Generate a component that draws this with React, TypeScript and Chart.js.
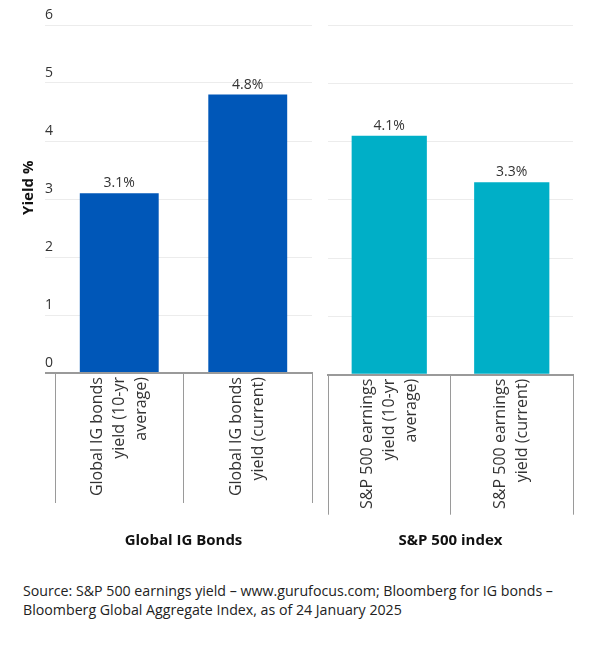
import { useEffect, useRef } from "react"
import { Chart, registerables } from "chart.js"

Chart.register(...registerables)

const FONT = "'Open Sans', sans-serif"

// data
const bondLabels = [
  ["Global IG bonds", "yield (10-yr", "average)"],
  ["Global IG bonds", "yield (current)"],
]
const bondValues = [3.1, 4.8]
const equityLabels = [
  ["S&P 500 earnings", "yield (10-yr", "average)"],
  ["S&P 500 earnings", "yield (current)"],
]
const equityValues = [4.1, 3.3]
const yTicks = [0, 1, 2, 3, 4, 5, 6]

// draws "x.x%" above each bar
const valueLabels = {
  id: "valueLabels",
  afterDatasetsDraw(chart: any) {
    const { ctx } = chart
    ctx.save()
    ctx.font = `14px ${FONT}`
    ctx.fillStyle = "#333"
    ctx.textAlign = "center"
    ctx.textBaseline = "bottom"
    chart.getDatasetMeta(0).data.forEach((bar: any, i: number) => {
      const v = chart.data.datasets[0].data[i]
      ctx.fillText(v.toFixed(1) + "%", bar.x, bar.y - 3)
    })
    ctx.restore()
  },
}

// rotated multi-line category labels, centred on each category
const xLabels = {
  id: "xLabels",
  afterDraw(chart: any) {
    const { ctx } = chart
    const scale = chart.scales.x
    const lh = 22
    ctx.save()
    ctx.font = `16px ${FONT}`
    ctx.fillStyle = "#333"
    ctx.textAlign = "right"
    ctx.textBaseline = "middle"
    scale.ticks.forEach((_t: any, i: number) => {
      const lines = chart.data.labels[i] as string[]
      ctx.save()
      ctx.translate(scale.getPixelForTick(i), scale.top + 4)
      ctx.rotate(-Math.PI / 2)
      lines.forEach((line, j) => {
        ctx.fillText(line, 0, (j - (lines.length - 1) / 2) * lh)
      })
      ctx.restore()
    })
    ctx.restore()
  },
}

function makeConfig(
  labels: string[][],
  values: number[],
  color: string,
  title: string,
  withYAxis: boolean,
  axisHeight: number,
  tickLength: number,
  padding: any
): any {
  return {
    type: "bar",
    data: {
      labels,
      datasets: [
        {
          data: values,
          backgroundColor: color,
          categoryPercentage: 1,
          barPercentage: 0.614,
        },
      ],
    },
    options: {
      responsive: true,
      maintainAspectRatio: false,
      animation: false,
      layout: { padding },
      plugins: {
        legend: { display: false },
        tooltip: { enabled: false },
      },
      scales: {
        x: {
          afterFit: (scale: any) => {
            scale.height = axisHeight
          },
          border: { display: true, color: "#9a9a9a", width: 2 },
          grid: {
            offset: true,
            drawOnChartArea: false,
            drawTicks: true,
            tickLength,
            color: "#9a9a9a",
            lineWidth: 1,
          },
          ticks: { display: false },
          title: {
            display: true,
            text: title,
            color: "#111",
            font: { family: FONT, size: 15, weight: "bold", lineHeight: 1.2 },
            padding: { top: 0, bottom: 10 },
          },
        },
        y: {
          min: 0,
          max: 6,
          afterFit: (scale: any) => {
            scale.width = withYAxis ? 55 : 0
          },
          afterBuildTicks: (scale: any) => {
            scale.ticks = yTicks.map((v) => ({ value: v }))
          },
          border: { display: false },
          grid: {
            drawTicks: withYAxis,
            tickLength: 10,
            color: (c: any) => (c.tick && c.tick.value === 0 ? "#9a9a9a" : "#ececec"),
            lineWidth: (c: any) => (c.tick && c.tick.value === 0 ? 2 : 1),
          },
          ticks: {
            display: withYAxis,
            mirror: true,
            padding: -10,
            labelOffset: -10,
            color: "#333",
            font: { family: FONT, size: 14 },
          },
          title: {
            display: withYAxis,
            // leading en-spaces nudge the centred title up a little
            text: "\u2002\u2002\u2002Yield %",
            color: "#111",
            font: { family: FONT, size: 15, weight: "bold", lineHeight: 1.2 },
            padding: { top: 19.5, bottom: 0 },
          },
        },
      },
    },
    plugins: [valueLabels, xLabels],
  }
}

function BarPanel(props: {
  labels: string[][]
  values: number[]
  color: string
  title: string
  withYAxis: boolean
  axisHeight: number
  tickLength: number
  padding: any
}) {
  const chartRef = useRef<HTMLCanvasElement>(null)
  const chartInstance = useRef<Chart | null>(null)

  useEffect(() => {
    if (!chartRef.current) return
    const ctx = chartRef.current.getContext("2d")
    if (!ctx) return
    if (chartInstance.current) chartInstance.current.destroy()
    chartInstance.current = new Chart(
      ctx,
      makeConfig(
        props.labels,
        props.values,
        props.color,
        props.title,
        props.withYAxis,
        props.axisHeight,
        props.tickLength,
        props.padding
      )
    )
    return () => {
      if (chartInstance.current) {
        chartInstance.current.destroy()
        chartInstance.current = null
      }
    }
  }, [])

  return <canvas ref={chartRef} />
}

export default function App() {
  useEffect(() => {
    document.body.style.margin = "0"
  }, [])

  return (
    <div style={{ position: "relative", width: 595, height: 646, background: "#fff" }}>
      <div style={{ position: "absolute", left: 0, top: 0, width: 320, height: 560 }}>
        <BarPanel
          labels={bondLabels}
          values={bondValues}
          color="#0057b8"
          title="Global IG Bonds"
          withYAxis={true}
          axisHeight={187}
          tickLength={130}
          padding={{ top: 25, right: 8, left: 0, bottom: 0 }}
        />
      </div>
      <div style={{ position: "absolute", left: 320, top: 0, width: 275, height: 560 }}>
        <BarPanel
          labels={equityLabels}
          values={equityValues}
          color="#00afc7"
          title="S&P 500 index"
          withYAxis={false}
          axisHeight={185.3}
          tickLength={140}
          padding={{ top: 25, right: 22, left: 8, bottom: 0 }}
        />
      </div>
      <div
        style={{
          position: "absolute",
          left: 23,
          top: 581,
          width: 570,
          fontFamily: FONT,
          fontSize: 14.2,
          lineHeight: "19px",
          color: "#222",
        }}
      >
        Source: S&amp;P 500 earnings yield – www.gurufocus.com; Bloomberg for IG bonds –
        <br />
        Bloomberg Global Aggregate Index, as of 24 January 2025
      </div>
    </div>
  )
}
